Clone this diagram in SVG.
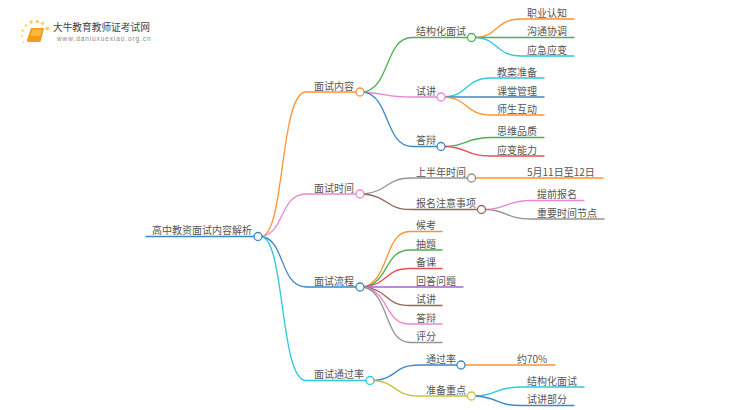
<svg xmlns="http://www.w3.org/2000/svg" width="750" height="410" viewBox="0 0 750 410">
<style>
text{font-family:"Noto Sans CJK SC","Noto Sans",sans-serif;font-size:10px;fill:#555}
.t{font-size:9.700px;fill:#444}
.url{font-family:"Liberation Sans",sans-serif;font-size:6.5px;letter-spacing:.9px;fill:#888}
#links path{fill:none;stroke-width:1.3;stroke-linecap:round}
.n{fill:#fff;stroke-width:1.3}
.o{stroke:#ff9232}.g{stroke:#4cb050}.p{stroke:#ee85d2}.b{stroke:#3d87c6}.c{stroke:#2fc8dc}.y{stroke:#949494}.br{stroke:#95665a}.r{stroke:#e2504f}.v{stroke:#a864c8}.ol{stroke:#c6c43c}
.d{fill:#fbd268}
</style>
<rect width="750" height="410" fill="#fff"/>
<g id="logo">
<circle class="d" cx="47.500" cy="28.500" r="2"/><circle class="d" cx="42.500" cy="23.500" r="1.800"/><circle class="d" cx="37.500" cy="21.500" r="1.800"/><circle class="d" cx="31" cy="22" r="1.800"/><circle class="d" cx="26" cy="25.500" r="1.300"/><circle class="d" cx="22.500" cy="30.500" r="1.200"/><circle class="d" cx="22" cy="36" r="1"/><circle class="d" cx="23.500" cy="42" r=".8"/>
<path d="M31 28H44L41 40.500Q40.500 42 39 42H28.500Q26.500 42 27 40Z" fill="#f59a1c"/><path d="M32.500 29.500H42L40 36H30.500Z" fill="#fbb93c"/>
<text class="t" x="53" y="30.500">大牛教育教师证考试网</text>
<text class="url" x="57" y="41">www.daniuxuexiao.org.cn</text>
</g>
<g id="links">
<path class="b" d="M146 236.500H254"/>
<path class="o" d="M262 236.500C285 232 280 92 306 92H356"/>
<path class="p" d="M262 236.500C285 232 280 194 306 194H356"/>
<path class="b" d="M262 236.500C285 240 280 287 306 287H356"/>
<path class="c" d="M262 236.500C285 242 280 380.500 306 380.500H366"/>
<path class="g" d="M364 92C390 88 385 37.500 412 37.500H467.500"/>
<path class="p" d="M364 92C390 94 385 97 412 97H437"/>
<path class="b" d="M364 92C390 96 385 146.500 412 146.500H437"/>
<path class="o" d="M475.500 37.500C498 37 495 19 521 19H574"/>
<path class="g" d="M475.500 37.500H574"/>
<path class="c" d="M475.500 37.500C498 38 495 56 521 56H574"/>
<path class="c" d="M445 97C468 96 465 78 491 78H544"/>
<path class="b" d="M445 97H544"/>
<path class="o" d="M445 97C468 98 465 115 491 115H544"/>
<path class="g" d="M445 146.500C468 146 465 137.500 491 137.500H544"/>
<path class="r" d="M445 146.500C468 147 465 156 491 156H544"/>
<path class="y" d="M364 194C390 191 385 178 412 178H467.500"/>
<path class="br" d="M364 194C390 197 385 209.500 412 209.500H477.500"/>
<path class="o" d="M475.500 178H603"/>
<path class="p" d="M485.500 209.500C508 209 505 200.500 531 200.500H584"/>
<path class="y" d="M485.500 209.500C508 210 505 219 531 219H604"/>
<path class="o" d="M364 287C390 280 384 231.500 410 231.500H442"/>
<path class="g" d="M364 287C390 282 384 250 410 250H442"/>
<path class="r" d="M364 287C390 284 384 268.500 410 268.500H442"/>
<path class="v" d="M364 287H463"/>
<path class="br" d="M364 287C390 290 384 305.500 410 305.500H442"/>
<path class="p" d="M364 287C390 292 384 324 410 324H442"/>
<path class="y" d="M364 287C390 294 384 342.500 410 342.500H442"/>
<path class="b" d="M374 380.500C398 379 392 365 420 365H457"/>
<path class="ol" d="M374 380.500C398 382 392 396 420 396H467.500"/>
<path class="o" d="M465 365H555"/>
<path class="c" d="M475.500 396C498 395 495 387 521 387H584"/>
<path class="b" d="M475.500 396C498 397 495 405.500 521 405.500H574"/>
</g>
<g id="root"><circle class="n b" cx="258" cy="236.500" r="4"/><text x="152" y="234">高中教资面试内容解析</text></g>
<g id="n1"><circle class="n o" cx="360" cy="92" r="4"/><text x="314" y="89.500">面试内容</text></g>
<g id="n2"><circle class="n g" cx="471.500" cy="37.500" r="4"/><text x="416" y="35">结构化面试</text></g>
<g id="n3"><text x="527" y="16.500">职业认知</text></g>
<g id="n4"><text x="527" y="35">沟通协调</text></g>
<g id="n5"><text x="527" y="53.500">应急应变</text></g>
<g id="n6"><circle class="n p" cx="441" cy="97" r="4"/><text x="416" y="94.500">试讲</text></g>
<g id="n7"><text x="497" y="75.500">教案准备</text></g>
<g id="n8"><text x="497" y="94.500">课堂管理</text></g>
<g id="n9"><text x="497" y="112.500">师生互动</text></g>
<g id="n10"><circle class="n b" cx="441" cy="146.500" r="4"/><text x="416" y="144">答辩</text></g>
<g id="n11"><text x="497" y="135">思维品质</text></g>
<g id="n12"><text x="497" y="153.500">应变能力</text></g>
<g id="n13"><circle class="n p" cx="360" cy="194" r="4"/><text x="314" y="191.500">面试时间</text></g>
<g id="n14"><circle class="n y" cx="471.500" cy="178" r="4"/><text x="416" y="175.500">上半年时间</text></g>
<g id="n15"><text x="527" y="175.500">5月11日至12日</text></g>
<g id="n16"><circle class="n br" cx="481.500" cy="209.500" r="4"/><text x="416" y="207">报名注意事项</text></g>
<g id="n17"><text x="537" y="198">提前报名</text></g>
<g id="n18"><text x="537" y="216.500">重要时间节点</text></g>
<g id="n19"><circle class="n b" cx="360" cy="287" r="4"/><text x="314" y="284.500">面试流程</text></g>
<g id="n20"><text x="416" y="229">候考</text></g>
<g id="n21"><text x="416" y="247.500">抽题</text></g>
<g id="n22"><text x="416" y="266">备课</text></g>
<g id="n23"><text x="416" y="284.500">回答问题</text></g>
<g id="n24"><text x="416" y="303">试讲</text></g>
<g id="n25"><text x="416" y="321.500">答辩</text></g>
<g id="n26"><text x="416" y="340">评分</text></g>
<g id="n27"><circle class="n c" cx="370" cy="380.500" r="4"/><text x="314" y="378">面试通过率</text></g>
<g id="n28"><circle class="n b" cx="461" cy="365" r="4"/><text x="426" y="362.500">通过率</text></g>
<g id="n29"><text x="517" y="362.500">约70%</text></g>
<g id="n30"><circle class="n ol" cx="471.500" cy="396" r="4"/><text x="426" y="393.500">准备重点</text></g>
<g id="n31"><text x="527" y="384.500">结构化面试</text></g>
<g id="n32"><text x="527" y="403">试讲部分</text></g>
</svg>
